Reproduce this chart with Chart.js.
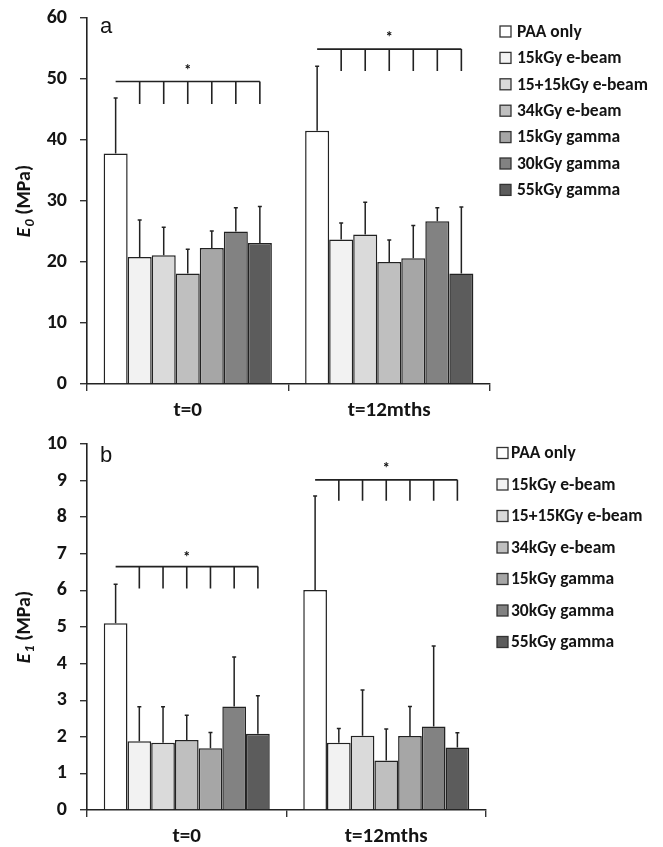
<!DOCTYPE html>
<html><head><meta charset="utf-8">
<script src="https://cdn.jsdelivr.net/npm/chart.js@4.4.1/dist/chart.umd.min.js"></script>
<style>
html,body{margin:0;padding:0;background:#fff;}
#wrap{width:663px;height:847px;position:relative;background:#fff;}
.p{position:absolute;left:0;width:663px;}
</style></head><body>
<div id="wrap">
<div class="p" style="top:0;height:423px"><canvas id="ca"></canvas></div>
<div class="p" style="top:423px;height:424px"><canvas id="cb"></canvas></div>
</div>
<script>
// ---------- DATA ----------
const groups = ['t=0', 't=12mths'];
const seriesA = ['PAA only','15kGy e-beam','15+15kGy e-beam','34kGy e-beam','15kGy gamma','30kGy gamma','55kGy gamma'];
const seriesB = ['PAA only','15kGy e-beam','15+15KGy e-beam','34kGy e-beam','15kGy gamma','30kGy gamma','55kGy gamma'];

// Panel a: E0 (MPa)
const E0_t0      = [37.8, 20.8, 21.1, 18.1, 22.3, 25.0, 23.1];
const E0_t12     = [41.5, 23.7, 24.5, 20.0, 20.6, 26.7, 18.1];
const E0_sd_t0   = [9.1, 6.1, 4.6, 4.0, 2.8, 3.9, 6.0];
const E0_sd_t12  = [10.6, 2.7, 5.3, 3.6, 5.4, 2.2, 10.9];
const E0_ticks   = [0, 10, 20, 30, 40, 50, 60];
// significance bracket levels (value units) per group
const E0_brLine  = [49.6, 54.9];
const E0_brTick  = [45.9, 51.3];
const E0_star    = [52.0, 57.5];

// Panel b: E1 (MPa)
const E1_t0      = [5.10, 1.88, 1.84, 1.91, 1.69, 2.83, 2.08];
const E1_t12     = [6.01, 1.84, 2.03, 1.35, 2.02, 2.28, 1.71];
const E1_sd_t0   = [1.07, 0.94, 0.98, 0.68, 0.43, 1.35, 1.04];
const E1_sd_t12  = [2.57, 0.39, 1.25, 0.86, 0.81, 2.20, 0.40];
const E1_ticks   = [0, 1, 2, 3, 4, 5, 6, 7, 8, 9, 10];
const E1_brLine  = [6.65, 9.02];
const E1_brTick  = [6.05, 8.45];
const E1_star    = [7.02, 9.43];

// ---------- STYLE ----------
const fills = ['#ffffff','#f2f2f2','#dadada','#bfbfbf','#a6a6a6','#828282','#5c5c5c'];
const FONT = "Carlito, Lato, 'Open Sans', sans-serif";
const INK = '#141414';

const errorBars = {
  id: 'errorBars',
  afterDatasetsDraw(chart) {
    const {ctx} = chart; const y = chart.scales.y;
    ctx.save(); ctx.strokeStyle = '#222'; ctx.lineWidth = 1.5;
    chart.data.datasets.forEach((ds, i) => {
      chart.getDatasetMeta(i).data.forEach((bar, j) => {
        const yt = y.getPixelForValue(ds.data[j] + ds.errors[j]);
        ctx.beginPath();
        ctx.moveTo(bar.x, bar.y); ctx.lineTo(bar.x, yt);
        ctx.moveTo(bar.x - 2, yt); ctx.lineTo(bar.x + 2, yt);
        ctx.stroke();
      });
    });
    ctx.restore();
  }
};

const brackets = {
  id: 'brackets',
  afterDatasetsDraw(chart, args, o) {
    const {ctx} = chart; const y = chart.scales.y; const x = chart.scales.x;
    const n = chart.data.datasets.length;
    ctx.save(); ctx.strokeStyle = '#222'; ctx.lineWidth = 1.6; ctx.fillStyle = INK;
    groups.forEach((g, j) => {
      const yl = y.getPixelForValue(o.line[j]);
      const yb = y.getPixelForValue(o.tick[j]);
      const x1 = chart.getDatasetMeta(0).data[j].x;
      const xn = chart.getDatasetMeta(n - 1).data[j].x;
      ctx.beginPath(); ctx.moveTo(x1, yl); ctx.lineTo(xn, yl);
      for (let k = 1; k < n; k++) {
        const xk = chart.getDatasetMeta(k).data[j].x;
        ctx.moveTo(xk, yl); ctx.lineTo(xk, yb);
      }
      ctx.stroke();
      ctx.font = "bold 15px " + FONT; ctx.textAlign = 'center'; ctx.textBaseline = 'alphabetic';
      ctx.fillText('*', x.getPixelForValue(j), y.getPixelForValue(o.star[j]) + 8.5);
    });
    ctx.restore();
  }
};

const decor = {
  id: 'decor',
  afterDraw(chart, args, o) {
    const {ctx, chartArea} = chart;
    ctx.save();
    // panel letter
    ctx.fillStyle = INK; ctx.font = "22px 'Liberation Sans', Arial, sans-serif";
    ctx.textAlign = 'left'; ctx.textBaseline = 'alphabetic';
    ctx.fillText(o.letter, 100, o.letterY);
    // y title with italic E and subscript
    const cy = (chartArea.top + chartArea.bottom) / 2;
    ctx.translate(25, cy); ctx.rotate(-Math.PI / 2);
    const f1 = "italic bold 20px " + FONT, f2 = "italic bold 14px " + FONT, f3 = "bold 20px " + FONT;
    ctx.font = f1; const w1 = ctx.measureText('E').width;
    ctx.font = f2; const w2 = ctx.measureText(o.sub).width;
    ctx.font = f3; const w3 = ctx.measureText(' (MPa)').width;
    let sx = -(w1 + w2 + 1 + w3) / 2;
    ctx.textBaseline = 'middle';
    ctx.font = f1; ctx.fillText('E', sx, 0); sx += w1 + 1;
    ctx.font = f2; ctx.fillText(o.sub, sx, 5); sx += w2;
    ctx.font = f3; ctx.fillText(' (MPa)', sx, 0);
    ctx.restore();
    // legend
    ctx.save();
    ctx.font = "bold 17.5px " + FONT; ctx.textBaseline = 'middle'; ctx.textAlign = 'left';
    chart.data.datasets.forEach((ds, i) => {
      const ry = o.legY0 + i * o.legStep;
      ctx.fillStyle = ds.backgroundColor; ctx.strokeStyle = '#333'; ctx.lineWidth = 1.3;
      ctx.fillRect(o.legX, ry - 5.5, 11, 11); ctx.strokeRect(o.legX, ry - 5.5, 11, 11);
      ctx.fillStyle = INK; ctx.fillText(ds.label, o.legX + o.legGap, ry + 1);
    });
    ctx.restore();
  }
};

function build(id, labels, t0, t12, sd0, sd12, ticks, br, layout, deco) {
  const datasets = labels.map((lab, i) => ({
    label: lab,
    data: [t0[i], t12[i]],
    errors: [sd0[i], sd12[i]],
    backgroundColor: fills[i],
    borderColor: '#222',
    borderWidth: 1.5,
    categoryPercentage: layout.cat,
    barPercentage: 1.0
  }));
  return new Chart(document.getElementById(id), {
    type: 'bar',
    data: { labels: groups, datasets },
    options: {
      responsive: true, maintainAspectRatio: false, animation: false, devicePixelRatio: 1,
      layout: { padding: { top: layout.top, right: layout.right, left: 0, bottom: 0 } },
      plugins: { legend: { display: false }, tooltip: { enabled: false },
        brackets: br, decor: deco },
      scales: {
        x: {
          grid: { offset: true, drawOnChartArea: false, drawTicks: true, tickLength: 7, color: '#333', lineWidth: 1.4 },
          border: { display: true, color: '#222', width: 1.6 },
          ticks: { color: INK, padding: 7, font: { family: FONT, size: 21, weight: 'bold' } },
          afterFit(s) { s.height = layout.xh; s.paddingLeft = 0; s.paddingRight = 0; }
        },
        y: {
          min: ticks[0], max: ticks[ticks.length - 1],
          afterBuildTicks(s) { s.ticks = ticks.map(v => ({ value: v })); },
          grid: { drawOnChartArea: false, drawTicks: true, tickLength: 7, color: '#333', lineWidth: 1.4 },
          border: { display: true, color: '#222', width: 1.6 },
          ticks: { color: INK, padding: 13, font: { family: FONT, size: 20, weight: 'bold' } },
          afterFit(s) { s.width = 87; s.paddingTop = 0; s.paddingBottom = 0; }
        }
      }
    },
    plugins: [errorBars, brackets, decor]
  });
}

build('ca', seriesA, E0_t0, E0_t12, E0_sd_t0, E0_sd_t12, E0_ticks,
  { line: E0_brLine, tick: E0_brTick, star: E0_star },
  { top: 18, right: 173, xh: 39, cat: 0.835 },
  { letter: 'a', letterY: 33, sub: '0', legX: 500, legGap: 17, legY0: 31.5, legStep: 26.4 });

build('cb', seriesB, E1_t0, E1_t12, E1_sd_t0, E1_sd_t12, E1_ticks,
  { line: E1_brLine, tick: E1_brTick, star: E1_star },
  { top: 21, right: 177, xh: 37, cat: 0.832 },
  { letter: 'b', letterY: 39, sub: '1', legX: 497, legGap: 14, legY0: 30, legStep: 31.5 });
</script>
</body></html>
